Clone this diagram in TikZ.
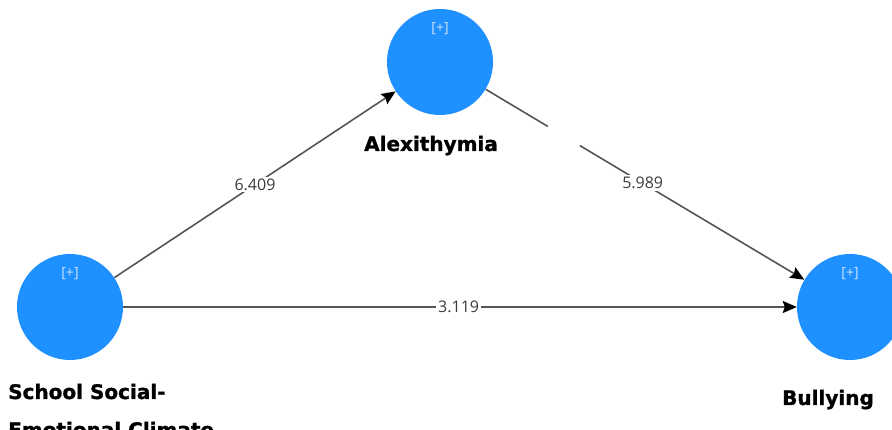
\documentclass[tikz,border=0pt]{standalone}
\usepackage{fontspec}
\setmainfont{DejaVu Sans}
\newfontfamily\numfont{Open Sans}
\newfontfamily\heavyfont[FakeBold=1.2]{DejaVu Sans Bold}
\usetikzlibrary{arrows.meta,calc}
\definecolor{lvblue}{RGB}{30,144,255}
\definecolor{plusc}{RGB}{205,228,255}
\definecolor{linec}{RGB}{85,85,85}
\definecolor{numc}{RGB}{60,60,60}
\tikzset{
  lv/.style={circle,fill=lvblue,draw=none,minimum size=106pt,inner sep=0pt},
  plus/.style={text=plusc,font=\numfont\fontsize{14}{14}\selectfont,inner sep=0pt},
  lvlabel/.style={font=\heavyfont\fontsize{20}{38}\selectfont,inner sep=0pt,text=black},
  conn/.style={draw=linec,line width=1.6pt},
  tip/.style={-{Stealth[length=14pt,width=12pt,inset=2pt,color=black]}},
  coef/.style={fill=white,inner sep=2pt,text=numc,font=\numfont\fontsize{16}{16}\selectfont}
}
\begin{document}
\begin{tikzpicture}[x=1pt,y=-1pt]
\useasboundingbox (0,0) rectangle (892,430);
\fill[white] (0,0) rectangle (892,430);
% latent variables
\node[lv] (alex) at (440,62) {};
\node[lv] (school) at (70,307) {};
\node[lv] (bully) at (850,307) {};
\node[plus] (palex) at (440,29) {[+]};
\node[plus] (pschool) at (70,274) {[+]};
\node[plus] (pbully) at (850,274) {[+]};
% labels
\node[lvlabel,anchor=base] (lalex) at (431,151) {Alexithymia};
\node[lvlabel,anchor=base west] (lschool1) at (8,399) {School Social-};
\node[lvlabel,anchor=base west] (lschool2) at (8,437) {Emotional Climate};
\node[lvlabel,anchor=base] (lbully) at (828,405) {Bullying};
% connectors
\draw[conn,tip] (school) -- (alex) node[coef,midway] (c1) {6.409};
\coordinate (g1) at ($(alex.center)!0.263!(bully.center)$);
\coordinate (g2) at ($(alex.center)!0.341!(bully.center)$);
\draw[conn] (alex) -- (g1);
\draw[conn,tip] (g2) -- (bully) node[coef,pos=0.28] (c2) {5.989};
\draw[conn,tip] (school) -- (bully) node[coef,pos=0.498] (c3) {3.119};
\end{tikzpicture}
\end{document}
